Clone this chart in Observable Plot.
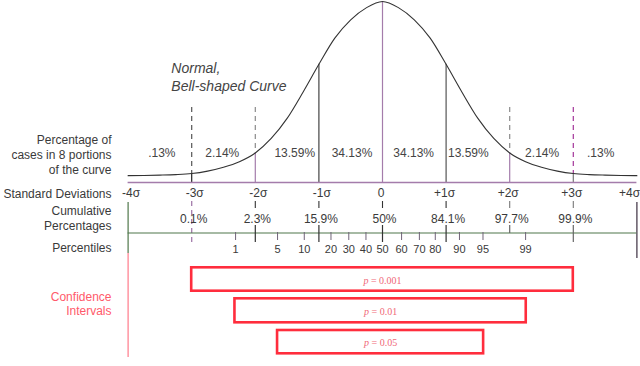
<!DOCTYPE html>
<html>
<head>
<meta charset="utf-8">
<script src="https://cdn.jsdelivr.net/npm/d3@7"></script>
<script src="https://cdn.jsdelivr.net/npm/@observablehq/plot@0.6"></script>
<style>
  html, body { margin: 0; padding: 0; background: #fff; }
  #chart svg { display: block; }
</style>
</head>
<body>
<div id="chart"></div>
<script>
// ---------- data ----------
const curveSigma  = [-4, -3.75, -3.5, -3.25, -3, -2.75, -2.5, -2.25, -2, -1.75, -1.5, -1.25, -1, -0.75, -0.5, -0.25, 0,
                     0.25, 0.5, 0.75, 1, 1.25, 1.5, 1.75, 2, 2.25, 2.5, 2.75, 3, 3.25, 3.5, 3.75, 4];
const curveHeight = [0.002, 0.003, 0.005, 0.008, 0.014, 0.028, 0.05, 0.082, 0.132, 0.215, 0.33, 0.48, 0.64, 0.79, 0.895, 0.965, 1.0,
                     0.965, 0.895, 0.79, 0.64, 0.48, 0.33, 0.215, 0.132, 0.082, 0.05, 0.028, 0.014, 0.008, 0.005, 0.003, 0.002];

const sigmaTicks  = [-4, -3, -2, -1, 0, 1, 2, 3, 4];
const sigmaLabels = ["-4σ", "-3σ", "-2σ", "-1σ", "0", "+1σ", "+2σ", "+3σ", "+4σ"];

const portionSigma  = [-3.47, -2.52, -1.38, -0.48, 0.49, 1.35, 2.51, 3.43];
const portionLabels = [".13%", "2.14%", "13.59%", "34.13%", "34.13%", "13.59%", "2.14%", ".13%"];

const cumSigma  = [-3, -2, -1, 0, 1, 2, 3];
const cumLabels = ["0.1%", "2.3%", "15.9%", "50%", "84.1%", "97.7%", "99.9%"];

const pctLabels = ["1", "5", "10", "20", "30", "40", "50", "60", "70", "80", "90", "95", "99"];
const pctSigma  = [-2.31, -1.65, -1.23, -0.81, -0.53, -0.26, 0, 0.30, 0.58, 0.83, 1.21, 1.58, 2.25];

const ciLabels = ["p = 0.001", "p = 0.01", "p = 0.05"];
const ciLow    = [-3, -2.32, -1.65];
const ciHigh   = [3, 2.26, 1.59];

const leftLabels = ["Percentage of\ncases in 8 portions\nof the curve", "Standard Deviations",
                    "Cumulative\nPercentages", "Percentiles"];
const title = "Normal,\nBell-shaped Curve";
const ciTitle = "Confidence\nIntervals";

// ---------- layout ----------
const W = 640, H = 366;
const BASE = 175.5, PEAK = 174.5;              // pixel row of curve baseline, pixel height of the peak
const py = px => (BASE - px) / PEAK;          // layout row (pixels) -> y units
const hAt = s => curveHeight[curveSigma.indexOf(s)];

const purple = "#a47cab";
const dark = "#3a3a3a";
const green = "#4f774a";
const red = "#ff2d3d";
const pink = "#ff7a8a";

const curve = curveSigma.map((s, i) => ({s, h: curveHeight[i]}));
const sigmaData = sigmaTicks.map((s, i) => ({s, label: sigmaLabels[i]}));
const portions = portionSigma.map((s, i) => ({s, label: portionLabels[i]}));
const cum = cumSigma.map((s, i) => ({s, label: cumLabels[i]}));
const pct = pctSigma.map((s, i) => ({s, label: pctLabels[i]}));
const ci = ciLabels.map((label, i) => ({label, lo: ciLow[i], hi: ciHigh[i], i}));

const belowColor = {"-3": "#222", "-2": purple, "-1": "#444", "0": purple, "1": "#555", "2": purple, "3": "#777"};
const dashColor  = {"-3": "#555", "-2": "#8a8a8a", "2": "#8a8a8a", "3": "#a3359a"};
const ciTop = [267.3, 298.3, 330];
const ciBottom = [290.7, 322.3, 353.3];
const leftRows = [154, 192.5, 217.5, 247];

const font = "'Liberation Sans', Arial, Helvetica, sans-serif";

const chart = Plot.plot({
  width: W,
  height: H,
  marginTop: 0,
  marginBottom: 0,
  marginLeft: 127.6,
  marginRight: 3.6,
  x: {domain: [-4, 4], axis: null},
  y: {domain: [py(H), py(0)], axis: null},
  color: {type: "identity"},
  style: {fontFamily: font, background: "#fff", overflow: "visible"},
  marks: [
    // vertical lines under the curve
    Plot.ruleX(cumSigma, {x: d => d, y1: d => hAt(d), y2: py(182), stroke: d => belowColor[d], strokeWidth: 1.2}),
    // dashed lines above the curve
    Plot.ruleX([-3, -2, 2, 3], {x: d => d, y1: py(107), y2: d => hAt(d), stroke: d => dashColor[d], strokeWidth: 1.2, strokeDasharray: "5,4"}),
    // curve
    Plot.line(curve, {x: "s", y: "h", curve: "monotone-x", stroke: "#333", strokeWidth: 1.1}),
    // standard deviation axis
    Plot.ruleY([py(182)], {x1: -4, x2: 4, stroke: purple, strokeWidth: 1.3}),
    Plot.text(sigmaData.filter(d => d.s < 0), {x: "s", y: py(192.5), dx: 3, text: "label", fontSize: 12, fill: dark}),
    Plot.text(sigmaData.filter(d => d.s >= 0 && d.s < 4), {x: "s", y: py(192.5), dx: -1.5, text: "label", fontSize: 12, fill: dark}),
    Plot.text(sigmaData.filter(d => d.s === 4), {x: "s", y: py(192.5), dx: 3.3, textAnchor: "end", text: "label", fontSize: 12, fill: dark}),
    // portions
    Plot.text(portions, {x: "s", y: py(153), text: "label", fontSize: 12, fill: "#444"}),
    // cumulative dashes and ticks
    Plot.ruleX(sigmaTicks.filter(d => d !== -3 && Math.abs(d) !== 4), {x: d => d, y1: py(201), y2: py(208), stroke: d => d >= 2 ? "#777" : "#333", strokeWidth: 1.1}),
    Plot.ruleX([-3], {x: d => d, y1: py(201), y2: py(243), stroke: purple, strokeWidth: 1.3, strokeDasharray: "5,4"}),
    Plot.ruleX([-4], {x: d => d, y1: py(202), y2: py(253), stroke: green, strokeWidth: 1.2}),
    Plot.ruleX([-4], {x: d => d, y1: py(253), y2: py(357), stroke: pink, strokeWidth: 1.2}),
    Plot.ruleX([4], {x: d => d, y1: py(202), y2: py(258), stroke: "#3d2f40", strokeWidth: 1.2}),
    Plot.text(cum, {x: "s", y: py(219), dx: 2, text: "label", fontSize: 12, fill: dark}),
    // percentile axis
    Plot.ruleY([py(232.5)], {x1: -4, x2: 4, stroke: green, strokeWidth: 1.2}),
    Plot.ruleX(pct, {x: "s", y1: py(232), y2: py(240), stroke: "#6f6478", strokeWidth: 1}),
    Plot.ruleX(cumSigma.filter(d => d !== -3), {x: d => d, y1: py(225), y2: d => d === 2 ? py(233) : py(242), stroke: d => d >= 2 ? "#666" : "#333", strokeWidth: 1.2}),
    Plot.text(pct, {x: "s", y: py(248.5), text: "label", fontSize: 11, fill: dark}),
    // left labels
    Plot.text(leftLabels, {x: -4, dx: -16.6, y: (d, i) => py(leftRows[i]), text: d => d, textAnchor: "end", fontSize: 12, lineHeight: 1.25, fill: dark}),
    Plot.text([ciTitle], {x: -4, dx: -16.6, y: py(303), text: d => d, textAnchor: "end", fontSize: 12, lineHeight: 1.17, fill: "#ff5a6a"}),
    // title
    Plot.text([title], {x: -3.32, y: py(76), text: d => d, textAnchor: "start", fontSize: 14, fontStyle: "italic", lineHeight: 1.3, fill: "#444"}),
    // confidence intervals
    Plot.rect(ci, {x1: "lo", x2: "hi", y1: d => py(ciTop[d.i]), y2: d => py(ciBottom[d.i]), fill: "#fff", stroke: red, strokeWidth: 2.6}),
    Plot.text(ci, {x: d => (d.lo + d.hi) / 2, y: d => py((ciTop[d.i] + ciBottom[d.i]) / 2 + 1), text: "label",
                   fontSize: 10, fontFamily: "'Liberation Serif', 'Times New Roman', serif", fill: "#f06878"})
  ]
});

// italic "p" in the interval labels
chart.querySelectorAll("text").forEach(t => {
  const s = t.textContent;
  if (s.startsWith("p = ")) {
    t.textContent = "";
    const ns = "http://www.w3.org/2000/svg";
    const a = document.createElementNS(ns, "tspan");
    a.setAttribute("font-style", "italic");
    a.textContent = "p";
    const b = document.createElementNS(ns, "tspan");
    b.textContent = s.slice(1);
    t.append(a, b);
  }
});

document.getElementById("chart").append(chart);
</script>
</body>
</html>
